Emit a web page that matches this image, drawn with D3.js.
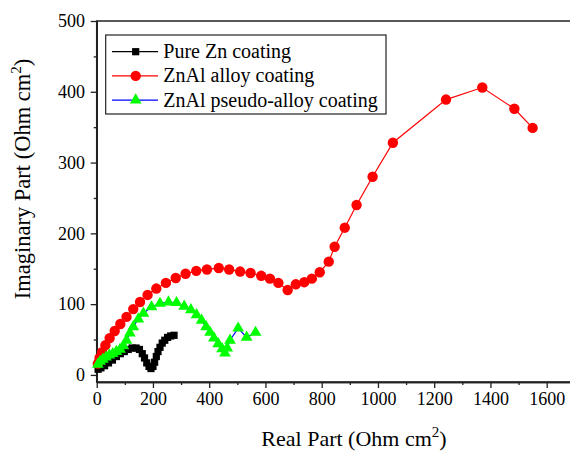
<!DOCTYPE html>
<html><head><meta charset="utf-8">
<script src="https://cdn.jsdelivr.net/npm/d3@7"></script>
<style>body{margin:0;background:#fff}svg{display:block}text{font-family:"Liberation Serif","Times New Roman",serif;fill:#000}</style>
</head><body><svg id="c" width="570" height="452"></svg>
<script>
const seriesNames = ["Pure Zn coating", "ZnAl alloy coating", "ZnAl pseudo-alloy coating"];
const xTicks = [0,200,400,600,800,1000,1200,1400,1600];
const yTicks = [0,100,200,300,400,500];
const pureZn = [[5,8],[15,10],[28,13],[42,17],[56,21],[70,26],[84,30],[98,33],[112,36],[126,38],[140,38],[152,36],[162,30],[170,24],[178,17],[186,12],[193,9],[200,12],[206,18],[212,26],[218,33],[225,39],[233,45],[242,49],[252,53],[263,55],[275,56]];
const znAl = [[4,16],[10,24],[19,32],[31,42],[46,52],[64,62],[84,72],[106,82],[130,93],[154,103],[181,113],[212,122],[246,130],[281,137],[316,143],[354,147],[392,149],[434,151],[471,149],[510,146],[547,144],[585,140],[616,136],[646,130],[679,120],[708,128],[738,131],[765,136],[793,145],[825,160],[846,181],[882,208],[924,240],[981,280],[1053,328],[1242,389],[1371,406],[1485,376],[1550,349]];
const znAlPseudo = [[4,15],[12,19],[22,22],[33,25],[45,28],[57,30],[70,33],[83,36],[95,41],[106,49],[118,59],[130,68],[148,79],[166,87],[195,96],[225,101],[255,103],[284,102],[311,97],[335,92],[355,85],[373,77],[389,68],[403,60],[417,52],[432,44],[446,37],[456,31],[464,38],[474,49],[503,66],[533,53],[565,60]];

const svg = d3.select("#c");
const x = d3.scaleLinear().domain([0,1700]).range([96.7, 96.7+1700*0.28125]);
const y = d3.scaleLinear().domain([-10,500]).range([382, 21]);

svg.append("rect").attr("x", x(0)).attr("y", y(500)).attr("width", x(1700)-x(0)).attr("height", y(-10)-y(500))
  .attr("fill","none").attr("stroke","#222").attr("stroke-width",1.5);

const xAx = svg.append("g").attr("transform",`translate(0,${y(-10)})`)
  .call(d3.axisBottom(x).tickValues(xTicks).tickSize(6).tickSizeOuter(0).tickPadding(4).tickFormat(d3.format("d")));
const xMinor = svg.append("g").attr("transform",`translate(0,${y(-10)})`)
  .call(d3.axisBottom(x).tickValues(d3.range(100,1700,200)).tickSize(3).tickSizeOuter(0).tickFormat(""));
const yAx = svg.append("g").attr("transform",`translate(${x(0)},0)`)
  .call(d3.axisLeft(y).tickValues(yTicks).tickSize(6).tickSizeOuter(0).tickPadding(3).tickFormat(d3.format("d")));
const yMinor = svg.append("g").attr("transform",`translate(${x(0)},0)`)
  .call(d3.axisLeft(y).tickValues(d3.range(50,500,100)).tickSize(3).tickSizeOuter(0).tickFormat(""));
[xAx,xMinor,yAx,yMinor].forEach(g=>{
  g.select(".domain").attr("stroke","#222").attr("stroke-width",1.5);
  g.selectAll(".tick line").attr("stroke","#222").attr("stroke-width",1.3);
  g.selectAll("text").attr("font-size",18).attr("font-family","Liberation Serif").attr("fill","#000");
});
yAx.selectAll("text").attr("dx","-0.15em");

const xt = svg.append("text").attr("x",354).attr("y",446).attr("text-anchor","middle").attr("font-size",22);
xt.append("tspan").text("Real Part (Ohm cm");
xt.append("tspan").attr("dy",-9).attr("font-size",15).text("2");
xt.append("tspan").attr("dy",9).text(")");
const yt = svg.append("text").attr("transform",`translate(30,179) rotate(-90)`).attr("text-anchor","middle").attr("font-size",22.5);
yt.append("tspan").text("Imaginary Part (Ohm cm");
yt.append("tspan").attr("dy",-9).attr("font-size",15).text("2");
yt.append("tspan").attr("dy",9).text(")");

const line = d3.line().x(d=>x(d[0])).y(d=>y(d[1]));
const plot = svg.append("g");
function drawSeries(data, lineColor, sym, size, fill){
  plot.append("path").datum(data).attr("d",line).attr("fill","none").attr("stroke",lineColor).attr("stroke-width",1.2);
  plot.selectAll(null).data(data).enter().append("path")
    .attr("transform",d=>`translate(${x(d[0])},${y(d[1])})`)
    .attr("d",d3.symbol().type(sym).size(size)).attr("fill",fill);
}
drawSeries(pureZn,"#000",d3.symbolSquare,52,"#000");
drawSeries(znAl,"#ff0000",d3.symbolCircle,85,"#ff0000");
drawSeries(znAlPseudo,"#0000ff",d3.symbolTriangle,60,"#00ff00");

const lg = svg.append("g");
lg.append("rect").attr("x",105.7).attr("y",35).attr("width",280.3).attr("height",79).attr("fill","#fff").attr("stroke","#222").attr("stroke-width",1.2);
const legItems = [
  {name:seriesNames[0], lc:"#000", sym:d3.symbolSquare, size:52, fill:"#000"},
  {name:seriesNames[1], lc:"#ff0000", sym:d3.symbolCircle, size:85, fill:"#ff0000"},
  {name:seriesNames[2], lc:"#0000ff", sym:d3.symbolTriangle, size:60, fill:"#00ff00"}
];
legItems.forEach((it,i)=>{
  const cy = 51.7 + i*24.2;
  lg.append("line").attr("x1",112).attr("x2",158).attr("y1",cy).attr("y2",cy).attr("stroke",it.lc).attr("stroke-width",1.2);
  lg.append("path").attr("transform",`translate(135.7,${cy})`).attr("d",d3.symbol().type(it.sym).size(it.size)).attr("fill",it.fill);
  lg.append("text").attr("x",163.3).attr("y",cy+6.5).attr("font-size",20).text(it.name);
});
</script></body></html>
